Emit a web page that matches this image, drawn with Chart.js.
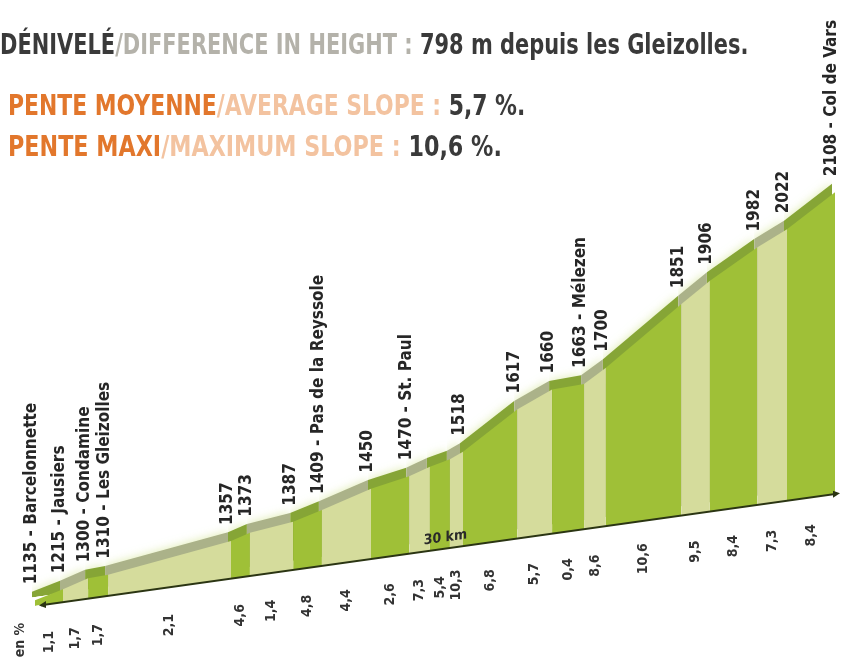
<!DOCTYPE html>
<html>
<head>
<meta charset="utf-8">
<script src="https://cdn.jsdelivr.net/npm/chart.js@4.4.1/dist/chart.umd.min.js"></script>
<style>
  html, body { margin: 0; padding: 0; background: #fff; }
  #wrap { position: relative; width: 843px; height: 667px; overflow: hidden; }
  canvas { position: absolute; left: 0; top: 0; }
  .hd {
    position: absolute; white-space: nowrap; line-height: 1;
    font-family: 'Liberation Sans Narrow', 'DejaVu Sans Condensed', 'Roboto', sans-serif;
    font-stretch: condensed; font-weight: bold; font-size: 28px;
    transform-origin: 0 0;
  }
  .dk { color: #3a3a3a; }
  .gy { color: #b4b2aa; }
  .or { color: #e2772c; }
  .pe { color: #f3c3a0; }
</style>
</head>
<body>
<div id="wrap">
  <canvas id="profil" width="843" height="667"></canvas>
  <div class="hd" id="h1" style="left:0;top:31px"><span class="dk">DÉNIVELÉ</span><span class="gy">/DIFFERENCE IN HEIGHT : </span><span class="dk">798 m depuis les Gleizolles.</span></div>
  <div class="hd" id="h2" style="left:8px;top:92px"><span class="or">PENTE MOYENNE</span><span class="pe">/AVERAGE SLOPE : </span><span class="dk">5,7 %.</span></div>
  <div class="hd" id="h3" style="left:8px;top:133px"><span class="or">PENTE MAXI</span><span class="pe">/MAXIMUM SLOPE : </span><span class="dk">10,6 %.</span></div>
</div>
<script>
// points du profil (altitude en m, position en km sur le dessin)
const altitudes = [1135, 1215, 1300, 1310, 1357, 1373, 1387, 1409, 1450, 1470, 1489, 1502, 1518,
  1617, 1660, 1663, 1700, 1851, 1906, 1982, 2022, 2108];
const kmPositions = [0, 1.05, 1.99, 2.74, 7.35, 8.06, 9.68, 10.76, 12.6, 14.03, 14.81, 15.56, 16.05,
  18.08, 19.39, 20.59, 21.41, 24.23, 25.31, 27.08, 28.2, 30];
// null = pas d'étiquette, '' = altitude seule
const pointNames = ['Barcelonnette', 'Jausiers', 'Condamine', 'Les Gleizolles', '', '', '', 'Pas de la Reyssole',
  '', 'St. Paul', null, null, '', '', '', 'Mélezen', '', '', '', '', '', 'Col de Vars'];
// pente de chaque tronçon (en %)
const slopes = [1.1, 1.7, 1.7, 2.1, 4.6, 1.4, 4.8, 4.4, 2.6, 7.3, 5.4, 10.3, 6.8, 5.7, 0.4, 8.6, 10.6, 9.5, 8.4, 7.3, 8.4];
const totalKm = 30;

const DARK = '#9fc037', LIGHT = '#d5dc9c';
const RIDGE_DARK = '#86a536', RIDGE_LIGHT = '#abb289';
const SKEW = -0.14;          // inclinaison de la ligne de base
const RIDGE_DX = -3, RIDGE_DY = -9;
const LABEL_FONT = "bold 17px 'Liberation Sans Narrow', 'DejaVu Sans Condensed', sans-serif";
const SLOPE_FONT = "bold 14px 'Liberation Sans Narrow', 'DejaVu Sans Condensed', sans-serif";

// échelle avec rupture : avant les Gleizolles le dessin est tassé
const BREAK_ALT = 1310, SQUASH = 0.25;
function squash(v) { return v >= BREAK_ALT ? v : BREAK_ALT - (BREAK_ALT - v) * SQUASH; }
class BrokenScale extends Chart.LinearScale {
  getPixelForValue(v) {
    const lo = squash(this.min), hi = squash(this.max);
    return this.getPixelForDecimal((squash(v) - lo) / (hi - lo));
  }
}
BrokenScale.id = 'broken';
BrokenScale.defaults = Chart.LinearScale.defaults;
Chart.register(BrokenScale);

const points = kmPositions.map((km, i) => ({ x: km, y: altitudes[i] }));

const relief = {
  id: 'relief',
  beforeDraw(chart) {
    const { ctx, chartArea: a } = chart;
    ctx.save();
    ctx.transform(1, SKEW, 0, 1, 0, -SKEW * a.left);
  },
  beforeDatasetsDraw(chart) {
    // le dessus (crête) est décalé vers l'arrière
    const ctx = chart.ctx;
    ctx.save();
    ctx.translate(RIDGE_DX, RIDGE_DY);
    ctx.shadowColor = 'rgba(200,222,120,0.6)';
    ctx.shadowBlur = 10;
  },
  afterDatasetDraw(chart, args) {
    if (args.index === 1) chart.ctx.restore();
  },
  afterDatasetsDraw(chart) {
    const { ctx, chartArea: a } = chart;
    // ligne de base avec flèches
    ctx.strokeStyle = '#2b3513';
    ctx.fillStyle = '#2b3513';
    ctx.lineWidth = 2;
    ctx.beginPath();
    ctx.moveTo(a.left + 6, a.bottom);
    ctx.lineTo(a.right + 2, a.bottom);
    ctx.stroke();
    ctx.beginPath();
    ctx.moveTo(a.left + 4, a.bottom);
    ctx.lineTo(a.left + 11, a.bottom - 3.5);
    ctx.lineTo(a.left + 11, a.bottom + 3.5);
    ctx.fill();
    ctx.beginPath();
    ctx.moveTo(a.right + 5, a.bottom);
    ctx.lineTo(a.right - 2, a.bottom - 3.5);
    ctx.lineTo(a.right - 2, a.bottom + 3.5);
    ctx.fill();
    ctx.font = "bold 14px 'Liberation Sans Narrow', 'DejaVu Sans Condensed', sans-serif";
    ctx.textAlign = 'center';
    ctx.textBaseline = 'alphabetic';
    ctx.fillStyle = '#2a2a2a';
    ctx.fillText(totalKm + ' km', chart.scales.x.getPixelForValue(totalKm * 0.513), a.bottom - 7);
    ctx.restore();
  },
  afterDraw(chart) {
    const { ctx, chartArea: a } = chart;
    const meta = chart.getDatasetMeta(0);
    const baseY = x => a.bottom + SKEW * (x - a.left);
    const vtext = (txt, x, y, align) => {
      ctx.save();
      ctx.translate(x, y);
      ctx.rotate(-Math.PI / 2);
      ctx.textAlign = align;
      ctx.textBaseline = 'middle';
      ctx.fillText(txt, 0, 0);
      ctx.restore();
    };
    ctx.fillStyle = '#262626';
    ctx.font = LABEL_FONT;
    meta.data.forEach((pt, i) => {
      if (pointNames[i] === null) return;
      const txt = pointNames[i] ? altitudes[i] + ' - ' + pointNames[i] : String(altitudes[i]);
      const ys = pt.y + SKEW * (pt.x - a.left);
      vtext(txt, pt.x - 3, ys - 16, 'left');
    });
    ctx.font = SLOPE_FONT;
    ctx.fillStyle = '#333';
    slopes.forEach((s, i) => {
      const mx = (meta.data[i].x + meta.data[i + 1].x) / 2;
      vtext(s.toFixed(1).replace('.', ','), mx, baseY(mx) + 38, 'center');
    });
    vtext('en %', a.left - 15, baseY(a.left - 15) + 32, 'center');
  }
};

new Chart(document.getElementById('profil'), {
  type: 'line',
  data: {
    datasets: [
      {
        // face avant
        data: points,
        order: 1,
        fill: 'start',
        borderColor: 'rgba(0,0,0,0)',
        borderWidth: 0,
        pointRadius: 0,
        clip: false,
        backgroundColor: DARK,
        segment: { backgroundColor: c => (c.p0DataIndex % 2 ? LIGHT : DARK) }
      },
      {
        // crête
        data: points,
        order: 2,
        fill: 'start',
        borderColor: 'rgba(0,0,0,0)',
        borderWidth: 0,
        pointRadius: 0,
        clip: false,
        backgroundColor: RIDGE_DARK,
        segment: { backgroundColor: c => (c.p0DataIndex % 2 ? RIDGE_LIGHT : RIDGE_DARK) }
      }
    ]
  },
  options: {
    responsive: false,
    animation: false,
    events: [],
    layout: { padding: { left: 35, right: 8, top: 272, bottom: 61 } },
    plugins: { legend: { display: false }, tooltip: { enabled: false } },
    scales: {
      x: { type: 'linear', min: 0, max: totalKm, display: false },
      y: { type: 'broken', min: 1070, max: 2200, display: false }
    }
  },
  plugins: [relief]
});

// ajuste la largeur des titres
function fit(id, w) {
  const el = document.getElementById(id);
  el.style.transform = 'scaleX(' + (w / el.offsetWidth) + ')';
}
fit('h1', 748); fit('h2', 517); fit('h3', 494);
</script>
</body>
</html>
